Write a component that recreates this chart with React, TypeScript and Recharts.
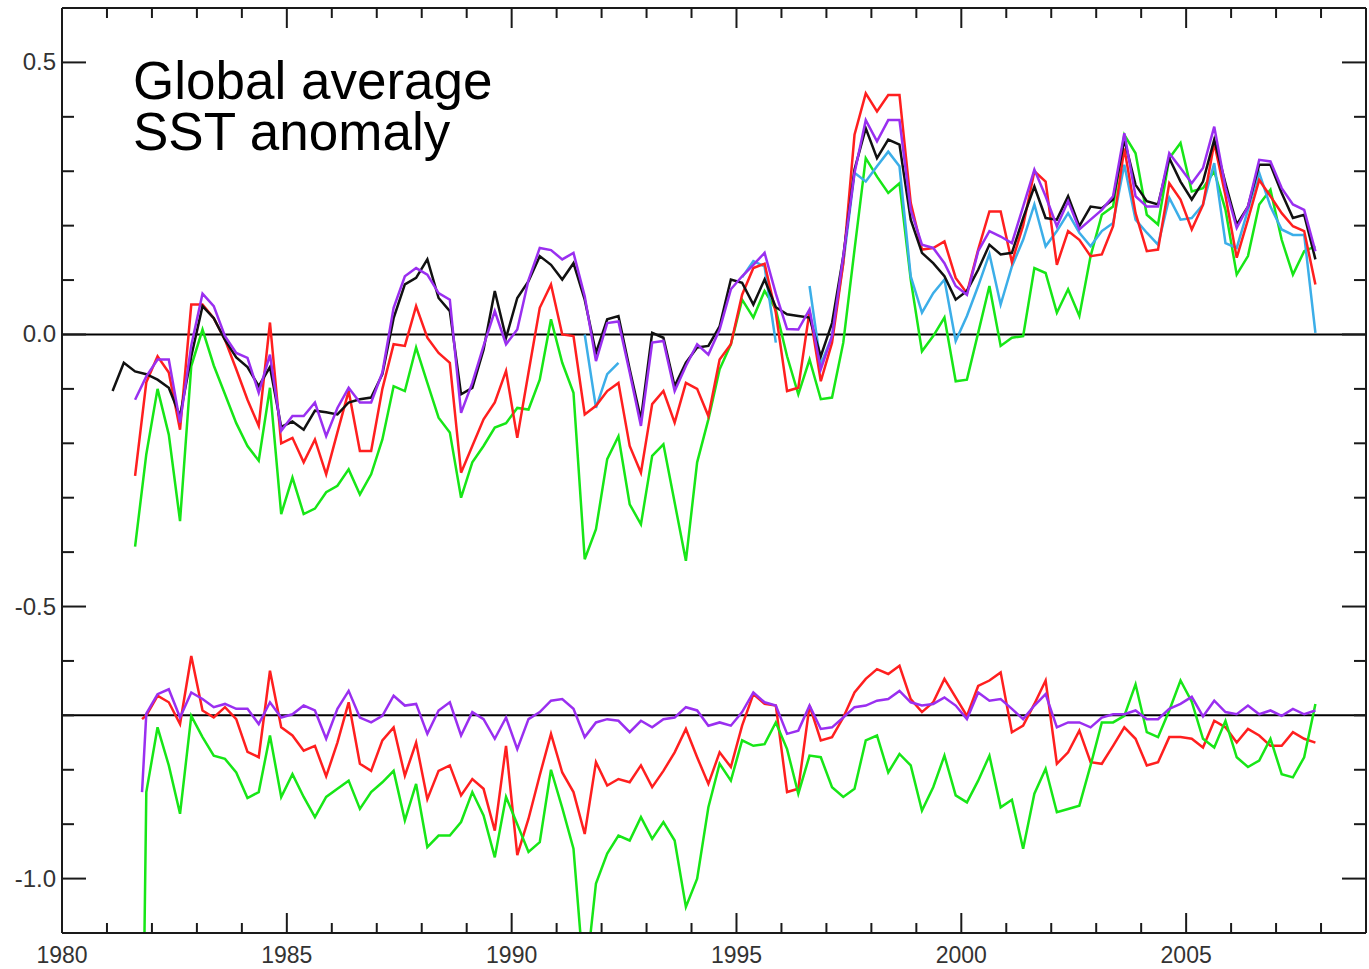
import React from 'react';
import { LineChart, Line, XAxis, YAxis, ReferenceLine } from 'recharts';

// quarterly grid: the black series starts two quarters before the others
const FIRST_QUARTER = 1981.125;
const quarterTimes = Array.from({ length: 108 }, (_, i) => FIRST_QUARTER + i * 0.25);
// the lower difference curves start with a near-vertical jump just before 1981.875
const LOWER_START = 1981.78;
const LOWER_OFFSET = -0.7;

const yearTicks = Array.from({ length: 30 }, (_, i) => 1980 + i);
const valueTicks = [-1.1, -1.0, -0.9, -0.8, -0.7, -0.6, -0.5, -0.4, -0.3, -0.2, -0.1, 0.0, 0.1, 0.2, 0.3, 0.4, 0.5, 0.6];

// upper panel, SST anomaly (degC)
const blackSst = [
  -0.104, -0.052, -0.068, -0.073, -0.083, -0.098, -0.15, -0.04, 0.052, 0.03,
  -0.01, -0.042, -0.06, -0.095, -0.06, -0.17, -0.16, -0.175, -0.14, -0.143,
  -0.147, -0.125, -0.119, -0.116, -0.073, 0.03, 0.092, 0.104, 0.138, 0.067,
  0.043, -0.11, -0.098, -0.028, 0.08, -0.006, 0.067, 0.098, 0.144, 0.128,
  0.101, 0.131, 0.064, -0.034, 0.028, 0.034, -0.064, -0.156, 0.003, -0.006,
  -0.095, -0.052, -0.024, -0.021, 0.015, 0.101, 0.095, 0.055, 0.101, 0.05,
  0.037, 0.034, 0.031, -0.04, 0.021, 0.144, 0.303, 0.379, 0.324, 0.358,
  0.349, 0.211, 0.15, 0.131, 0.107, 0.064, 0.08, 0.119, 0.165, 0.147,
  0.15, 0.214, 0.272, 0.214, 0.211, 0.254, 0.199, 0.235, 0.232, 0.248,
  0.358, 0.275, 0.245, 0.239, 0.324, 0.281, 0.248, 0.281, 0.358, 0.278,
  0.202, 0.235, 0.312, 0.312, 0.26, 0.214, 0.22, 0.138,
];

const redSst = [
  -0.26, -0.088, -0.04, -0.07, -0.175, 0.055, 0.055, 0.03, -0.01, -0.064,
  -0.12, -0.168, 0.022, -0.2, -0.19, -0.235, -0.193, -0.257, -0.18, -0.104,
  -0.214, -0.214, -0.1, -0.018, -0.021, 0.052, -0.006, -0.034, -0.052, -0.254,
  -0.205, -0.156, -0.125, -0.067, -0.19, -0.07, 0.049, 0.092, 0.0, -0.003,
  -0.147, -0.131, -0.104, -0.089, -0.205, -0.254, -0.128, -0.104, -0.162, -0.089,
  -0.1, -0.15, -0.046, -0.018, 0.073, 0.122, 0.13, 0.04, -0.104, -0.098,
  0.043, -0.086, -0.015, 0.131, 0.367, 0.443, 0.41, 0.44, 0.44, 0.242,
  0.156, 0.159, 0.171, 0.104, 0.076, 0.156, 0.226, 0.226, 0.133, 0.2,
  0.3, 0.281, 0.128, 0.19, 0.174, 0.144, 0.147, 0.199, 0.342, 0.223,
  0.153, 0.156, 0.278, 0.248, 0.193, 0.238, 0.352, 0.255, 0.141, 0.211,
  0.284, 0.254, 0.223, 0.199, 0.19, 0.092,
];

const purpleSst = [
  -0.12, -0.077, -0.046, -0.046, -0.162, -0.02, 0.075, 0.052, -0.003, -0.034,
  -0.043, -0.107, -0.037, -0.177, -0.15, -0.15, -0.125, -0.187, -0.135, -0.098,
  -0.125, -0.125, -0.07, 0.049, 0.107, 0.122, 0.11, 0.076, 0.064, -0.144,
  -0.089, -0.021, 0.043, -0.018, 0.009, 0.1, 0.159, 0.155, 0.138, 0.15,
  0.07, -0.049, 0.021, 0.024, -0.07, -0.168, -0.015, -0.012, -0.104, -0.058,
  -0.018, -0.037, 0.009, 0.083, 0.107, 0.128, 0.15, 0.075, 0.01, 0.009,
  0.046, -0.064, -0.003, 0.144, 0.297, 0.394, 0.355, 0.394, 0.394, 0.229,
  0.165, 0.159, 0.131, 0.089, 0.073, 0.153, 0.19, 0.18, 0.168, 0.235,
  0.303, 0.254, 0.199, 0.245, 0.193, 0.211, 0.229, 0.254, 0.37, 0.254,
  0.235, 0.235, 0.333, 0.306, 0.278, 0.306, 0.382, 0.27, 0.196, 0.235,
  0.321, 0.318, 0.269, 0.239, 0.229, 0.153,
];

const greenSst = [
  -0.39, -0.22, -0.1, -0.184, -0.343, -0.058, 0.009, -0.057, -0.11, -0.163,
  -0.205, -0.232, -0.098, -0.33, -0.263, -0.33, -0.32, -0.29, -0.278, -0.248,
  -0.294, -0.257, -0.193, -0.095, -0.104, -0.024, -0.089, -0.153, -0.18, -0.3,
  -0.235, -0.205, -0.171, -0.163, -0.135, -0.138, -0.083, 0.028, -0.052, -0.107,
  -0.413, -0.358, -0.229, -0.187, -0.312, -0.349, -0.223, -0.202, -0.309, -0.416,
  -0.235, -0.156, -0.064, -0.018, 0.064, 0.031, 0.08, 0.046, -0.04, -0.11,
  -0.046, -0.119, -0.116, -0.015, 0.156, 0.324, 0.29, 0.26, 0.278, 0.101,
  -0.031, -0.003, 0.031, -0.086, -0.083, 0.003, 0.089, -0.021, -0.006, -0.003,
  0.122, 0.113, 0.04, 0.083, 0.034, 0.144, 0.22, 0.235, 0.367, 0.333,
  0.22, 0.202, 0.324, 0.352, 0.263, 0.269, 0.3, 0.229, 0.11, 0.144,
  0.239, 0.266, 0.174, 0.11, 0.153, 0.162,
];

// light blue series starts at 1991.625 and has gaps
const CYAN_FIRST = 40;
const cyanSst = [
  0.0, -0.135, -0.073, -0.052, null, null, null, null, null, null,
  null, null, null, null, 0.105, 0.135, 0.125, -0.015, null, null,
  0.089, -0.055, -0.003, 0.131, 0.297, 0.281, 0.309, 0.336, 0.309, 0.107,
  0.04, 0.076, 0.101, -0.012, 0.034, 0.089, 0.148, 0.055, 0.125, 0.174,
  0.239, 0.162, 0.19, 0.223, 0.187, 0.162, 0.19, 0.205, 0.312, 0.211,
  0.187, 0.165, 0.251, 0.211, 0.214, 0.239, 0.315, 0.168, 0.159, 0.229,
  0.297, 0.235, 0.193, 0.183, 0.183, 0.003,
];

// lower panel, differences (first value sits at LOWER_START, then 1981.875 onward)
const redDiff = [
  -0.007, 0.0, 0.036, 0.024, -0.016, 0.109, 0.009, -0.004, 0.015, -0.007,
  -0.067, -0.077, 0.082, -0.022, -0.037, -0.065, -0.056, -0.112, -0.05, 0.024,
  -0.089, -0.102, -0.046, -0.022, -0.111, -0.05, -0.154, -0.102, -0.092, -0.147,
  -0.117, -0.135, -0.212, -0.056, -0.257, -0.19, -0.11, -0.034, -0.105, -0.141,
  -0.218, -0.086, -0.129, -0.117, -0.123, -0.092, -0.132, -0.102, -0.068, -0.025,
  -0.077, -0.126, -0.068, -0.095, -0.019, 0.039, 0.021, 0.018, -0.141, -0.135,
  0.018, -0.046, -0.04, -0.004, 0.042, 0.067, 0.085, 0.076, 0.091, 0.03,
  0.006, 0.024, 0.067, 0.033, -0.001, 0.054, 0.064, 0.079, -0.031, -0.019,
  0.021, 0.064, -0.089, -0.068, -0.028, -0.086, -0.089, -0.056, -0.022, -0.043,
  -0.092, -0.086, -0.04, -0.04, -0.043, -0.059, -0.01, -0.022, -0.05, -0.025,
  -0.037, -0.056, -0.056, -0.031, -0.043, -0.05,
];

const purpleDiff = [
  -0.141, 0.003, 0.039, 0.048, -0.004, 0.042, 0.03, 0.015, 0.021, 0.012,
  0.012, -0.016, 0.024, -0.004, 0.002, 0.018, 0.009, -0.043, 0.012, 0.045,
  -0.004, -0.013, -0.001, 0.036, 0.018, 0.021, -0.034, 0.009, 0.024, -0.037,
  0.006, -0.007, -0.043, -0.004, -0.062, -0.007, 0.006, 0.027, 0.03, 0.012,
  -0.04, -0.013, -0.007, -0.01, -0.031, -0.01, -0.022, -0.007, -0.004, 0.015,
  0.009, -0.019, -0.013, -0.019, 0.006, 0.042, 0.024, 0.018, -0.034, -0.028,
  0.018, -0.025, -0.022, -0.004, 0.015, 0.018, 0.027, 0.03, 0.045, 0.024,
  0.018, 0.021, 0.033, 0.018, -0.007, 0.042, 0.027, 0.03, 0.012, -0.007,
  0.018, 0.039, -0.022, -0.013, -0.013, -0.022, -0.004, 0.002, 0.002, 0.009,
  -0.007, -0.007, 0.012, 0.021, 0.034, -0.002, 0.027, 0.006, 0.002, 0.018,
  0.002, 0.009, -0.001, 0.012, 0.002, 0.009,
];

const greenDiff = [
  -0.75, -0.141, -0.022, -0.092, -0.181, -0.001, -0.04, -0.074, -0.08, -0.105,
  -0.152, -0.141, -0.037, -0.15, -0.108, -0.15, -0.187, -0.15, -0.135, -0.12,
  -0.172, -0.141, -0.123, -0.102, -0.193, -0.126, -0.242, -0.221, -0.221, -0.196,
  -0.141, -0.184, -0.261, -0.15, -0.2, -0.251, -0.233, -0.1, -0.17, -0.245,
  -0.5, -0.309, -0.254, -0.221, -0.23, -0.187, -0.227, -0.196, -0.23, -0.352,
  -0.3, -0.169, -0.089, -0.12, -0.046, -0.056, -0.053, -0.013, -0.062, -0.144,
  -0.074, -0.077, -0.132, -0.15, -0.135, -0.046, -0.037, -0.105, -0.071, -0.092,
  -0.175, -0.132, -0.074, -0.147, -0.16, -0.12, -0.074, -0.169, -0.155, -0.245,
  -0.144, -0.098, -0.178, -0.172, -0.166, -0.092, -0.013, -0.013, -0.001, 0.057,
  -0.031, -0.04, 0.009, 0.064, 0.025, -0.043, -0.059, -0.01, -0.077, -0.095,
  -0.083, -0.043, -0.108, -0.114, -0.077, 0.021,
];

const RED = '#ff1f1f';
const GREEN = '#17e617';
const PURPLE = '#9a2ff0';
const CYAN = '#3caee8';
const FRAME = '#1a1a1a';
const LABEL = '#333333';
const FONT = '"Liberation Sans", Arial, Helvetica, sans-serif';

const low = (arr: number[], k: number) => (k >= 1 ? LOWER_OFFSET + arr[k] : null);

const rows: any[] = quarterTimes.map((t, i) => {
  const k = i - 2;
  const ck = k - CYAN_FIRST;
  return {
    t,
    black: blackSst[i],
    red: k >= 0 ? redSst[k] : null,
    purple: k >= 0 ? purpleSst[k] : null,
    green: k >= 0 ? greenSst[k] : null,
    cyan: ck >= 0 ? cyanSst[ck] : null,
    redLow: low(redDiff, k),
    purpleLow: low(purpleDiff, k),
    greenLow: low(greenDiff, k),
  };
});
rows.splice(3, 0, {
  t: LOWER_START,
  redLow: LOWER_OFFSET + redDiff[0],
  purpleLow: LOWER_OFFSET + purpleDiff[0],
  greenLow: LOWER_OFFSET + greenDiff[0],
});

const isMajorYear = (v: number) => v % 5 === 0;
const isMajorValue = (v: number) => Math.abs(v * 2 - Math.round(v * 2)) < 1e-6;

const BottomTick = (props: any) => {
  const { x, y, payload } = props;
  const major = isMajorYear(payload.value);
  return (
    <g>
      <line x1={x} x2={x} y1={y} y2={y - (major ? 20 : 10)} stroke={FRAME} strokeWidth={2} />
      {major && payload.value < 2009 ? (
        <text x={x} y={y + 30} textAnchor="middle" fill={LABEL} fontSize={23} fontFamily={FONT}>
          {payload.value}
        </text>
      ) : null}
    </g>
  );
};

const TopTick = (props: any) => {
  const { x, y, payload } = props;
  const major = isMajorYear(payload.value);
  return <line x1={x} x2={x} y1={y} y2={y + (major ? 20 : 10)} stroke={FRAME} strokeWidth={2} />;
};

const LeftTick = (props: any) => {
  const { x, y, payload } = props;
  const major = isMajorValue(payload.value);
  return (
    <g>
      <line x1={x} x2={x + (major ? 24 : 12)} y1={y} y2={y} stroke={FRAME} strokeWidth={2} />
      {major ? (
        <text x={x - 6} y={y + 8} textAnchor="end" fill={LABEL} fontSize={24} fontFamily={FONT}>
          {payload.value.toFixed(1)}
        </text>
      ) : null}
    </g>
  );
};

const RightTick = (props: any) => {
  const { x, y, payload } = props;
  const major = isMajorValue(payload.value);
  return <line x1={x} x2={x - (major ? 24 : 12)} y1={y} y2={y} stroke={FRAME} strokeWidth={2} />;
};

const axisLine = { stroke: FRAME, strokeWidth: 2 };

export default function App() {
  return (
    <div style={{ position: 'absolute', left: 0, top: 0, width: 1369, height: 969, background: '#fff' }}>
      <LineChart width={1369} height={969} data={rows} margin={{ top: 7, right: 2, bottom: 6, left: 12 }}>
        <XAxis
          dataKey="t"
          type="number"
          domain={[1980, 2009]}
          ticks={yearTicks}
          interval={0}
          tickSize={0}
          tickMargin={0}
          tickLine={false}
          axisLine={axisLine}
          tick={<BottomTick />}
          height={30}
          allowDataOverflow
        />
        <XAxis
          xAxisId="top"
          orientation="top"
          dataKey="t"
          type="number"
          domain={[1980, 2009]}
          ticks={yearTicks}
          interval={0}
          tickSize={0}
          tickMargin={0}
          tickLine={false}
          axisLine={axisLine}
          tick={<TopTick />}
          height={1}
          allowDataOverflow
        />
        <YAxis
          type="number"
          domain={[-1.1, 0.6]}
          ticks={valueTicks}
          interval={0}
          tickSize={0}
          tickMargin={0}
          tickLine={false}
          axisLine={axisLine}
          tick={<LeftTick />}
          width={50}
          allowDataOverflow
        />
        <YAxis
          yAxisId="right"
          orientation="right"
          type="number"
          domain={[-1.1, 0.6]}
          ticks={valueTicks}
          interval={0}
          tickSize={0}
          tickMargin={0}
          tickLine={false}
          axisLine={axisLine}
          tick={<RightTick />}
          width={1}
          allowDataOverflow
        />
        <ReferenceLine y={0} stroke="#000" strokeWidth={2} />
        <ReferenceLine y={LOWER_OFFSET} stroke="#000" strokeWidth={2} />

        <Line type="linear" dataKey="green" stroke={GREEN} strokeWidth={2.5} dot={false} connectNulls isAnimationActive={false} />
        <Line type="linear" dataKey="cyan" stroke={CYAN} strokeWidth={2.5} dot={false} connectNulls={false} isAnimationActive={false} />
        <Line type="linear" dataKey="red" stroke={RED} strokeWidth={2.5} dot={false} connectNulls isAnimationActive={false} />
        <Line type="linear" dataKey="black" stroke="#111" strokeWidth={2.5} dot={false} connectNulls isAnimationActive={false} />
        <Line type="linear" dataKey="purple" stroke={PURPLE} strokeWidth={2.5} dot={false} connectNulls isAnimationActive={false} />

        <Line type="linear" dataKey="redLow" stroke={RED} strokeWidth={2.5} dot={false} connectNulls isAnimationActive={false} />
        <Line type="linear" dataKey="greenLow" stroke={GREEN} strokeWidth={2.5} dot={false} connectNulls isAnimationActive={false} />
        <Line type="linear" dataKey="purpleLow" stroke={PURPLE} strokeWidth={2.5} dot={false} connectNulls isAnimationActive={false} />
      </LineChart>
      <div
        style={{
          position: 'absolute',
          left: 133,
          top: 55,
          fontFamily: FONT,
          fontSize: 53,
          lineHeight: '51px',
          color: '#000',
          whiteSpace: 'pre',
        }}
      >
        {'Global average\nSST anomaly'}
      </div>
    </div>
  );
}
